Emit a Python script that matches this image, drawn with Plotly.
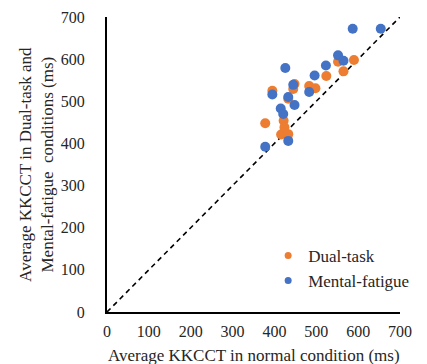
import plotly.graph_objects as go

dual_x = [378, 395, 416, 433, 422, 424, 433, 445, 448, 483, 498, 524, 552, 565, 590]
dual_y = [448, 525, 421, 422, 454, 438, 506, 529, 541, 536, 531, 560, 594, 571, 598]

mental_x = [378, 395, 426, 415, 421, 433, 433, 445, 448, 483, 496, 523, 552, 565, 587, 654]
mental_y = [392, 516, 579, 483, 470, 406, 510, 539, 491, 522, 561, 585, 609, 596, 672, 672]

ref_line = [0, 700]
x_ticks = [0, 100, 200, 300, 400, 500, 600, 700]
y_ticks = [0, 100, 200, 300, 400, 500, 600, 700]

FONT = "Liberation Serif"
TXT = "#262626"
ORANGE = "#ED7D31"
BLUE = "#4472C4"

fig = go.Figure()
fig.add_trace(go.Scatter(x=ref_line, y=ref_line, mode="lines",
                         line=dict(color="black", width=1.6, dash="5px,4px"),
                         showlegend=False, hoverinfo="skip"))
fig.add_trace(go.Scatter(x=dual_x, y=dual_y, mode="markers", name="Dual-task",
                         showlegend=False, marker=dict(color=ORANGE, size=10)))
fig.add_trace(go.Scatter(x=mental_x, y=mental_y, mode="markers", name="Mental-fatigue",
                         showlegend=False, marker=dict(color=BLUE, size=10)))
# legend entries (smaller symbols as in the reference legend)
fig.add_trace(go.Scatter(x=[None], y=[None], mode="markers", name="Dual-task",
                         marker=dict(color=ORANGE, size=7)))
fig.add_trace(go.Scatter(x=[None], y=[None], mode="markers", name="Mental-fatigue",
                         marker=dict(color=BLUE, size=7)))

fig.update_layout(
    width=427, height=364,
    margin=dict(l=107, r=13, t=17, b=52),
    plot_bgcolor="white", paper_bgcolor="white",
    font=dict(family=FONT, size=16, color=TXT),
    legend=dict(x=0.55, y=0.251, xanchor="left", yanchor="top",
                font=dict(size=17, family=FONT, color=TXT),
                bgcolor="rgba(0,0,0,0)"),
    showlegend=True,
    annotations=[
        dict(text="Average KKCCT in normal condition (ms)", xref="paper", yref="paper",
             x=0.5, y=-0.1458, xanchor="center", yanchor="middle", showarrow=False,
             font=dict(size=17, family=FONT, color=TXT)),
        dict(text="Average KKCCT in Dual-task and<br>Mental-fatigue  conditions (ms)",
             xref="paper", yref="paper", x=-0.241, y=0.5, xanchor="center",
             yanchor="middle", textangle=-90, showarrow=False,
             font=dict(size=17, family=FONT, color=TXT)),
    ],
)
fig.update_xaxes(range=[0, 700], tickvals=x_ticks, showgrid=False, zeroline=False,
                 showline=True, linecolor="black", linewidth=2, ticks="",
                 ticklabelstandoff=4, automargin=False)
fig.update_yaxes(range=[0, 700], tickvals=y_ticks, showgrid=False, zeroline=False,
                 showline=True, linecolor="black", linewidth=2, ticks="",
                 ticklabelstandoff=17, automargin=False)

fig.write_html("out.html", config={"displayModeBar": False},
               post_script="document.body.style.margin='0';document.body.style.overflow='hidden';")
